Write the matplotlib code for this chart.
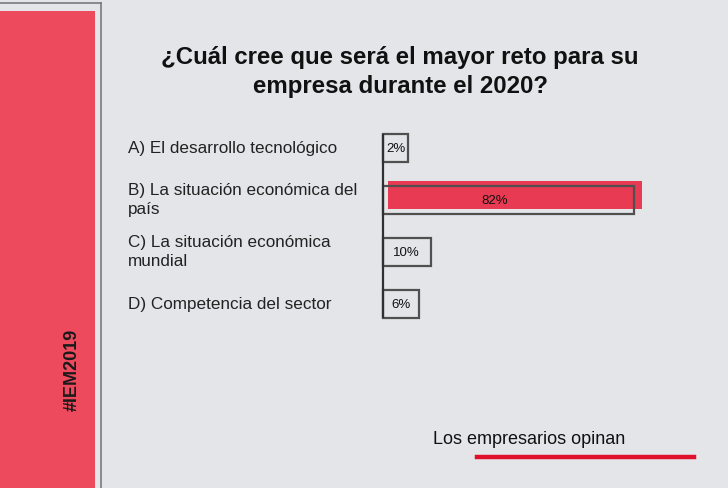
import numpy as np
import matplotlib
matplotlib.use("Agg")
import matplotlib.pyplot as plt
from matplotlib.patches import Rectangle
from matplotlib.lines import Line2D
from matplotlib.transforms import blended_transform_factory

plt.rcParams['font.family'] = ['Liberation Sans', 'DejaVu Sans']

# datos
categorias = ['A) El desarrollo tecnológico',
              'B) La situación económica del\npaís',
              'C) La situación económica\nmundial',
              'D) Competencia del sector']
valores = np.array([2, 82, 10, 6])
etiquetas = ['2%', '82%', '10%', '6%']
titulo = '¿Cuál cree que será el mayor reto para su\nempresa durante el 2020?'

W, H = 728, 488
fig = plt.figure(figsize=(W / 100, H / 100), dpi=100)
fig.patch.set_facecolor('#e4e5e8')

# panel rojo a la izquierda
fig.patches.append(Rectangle((0, 0), 95 / W, 1 - 11 / H, transform=fig.transFigure,
                             facecolor='#ee4a5e', edgecolor='none', zorder=1))
fig.lines.append(Line2D([101 / W, 101 / W], [0, 1 - 3 / H], transform=fig.transFigure,
                        color='#7a7a7a', lw=1.2))
fig.lines.append(Line2D([0, 101 / W], [1 - 3 / H, 1 - 3 / H], transform=fig.transFigure,
                        color='#7a7a7a', lw=1.2))
fig.text(72 / W, 1 - 370 / H, '#IEM2019', rotation=90, fontsize=13, fontweight='bold',
         color='#1a1a1a', ha='center', va='center')

# titulo
fig.text(400 / W, 1 - 72 / H, titulo, ha='center', va='center', fontsize=17.3,
         fontweight='bold', color='#111111', linespacing=1.3)

# barras
inicio = -6.85
ax = fig.add_axes([383 / W, 1 - 330 / H, 251 / W, 208 / H])
ax.set_xlim(inicio, valores.max())
ax.set_ylim(3.5, -0.5)
ax.axis('off')
y = np.arange(len(valores))
alto = 28 / 52

# resaltado rojo del mayor valor
imax = int(np.argmax(valores))
ax.barh(y[imax] - 5 / 52, valores[imax] - inicio + 1.0, left=inicio + 5 / 2.825,
        height=alto, color='#e83a52', edgecolor='none', zorder=2, clip_on=False)
ax.barh(y, valores - inicio, left=inicio, height=alto, facecolor='none',
        edgecolor='#505050', lw=1.6, zorder=3, clip_on=False)
ax.vlines(inicio, y[0] - alto / 2, y[-1] + alto / 2, color='#303030', lw=1.6,
          zorder=4, clip_on=False)

for yi, v, et in zip(y, valores, etiquetas):
    ax.text((inicio + v) / 2 - (5 if v == valores.max() else 0), yi + 0.02, et,
            ha='center', va='center', fontsize=9.5, color='#111111', zorder=5)

trans = blended_transform_factory(fig.transFigure, ax.transData)
for yi, cat in zip(y, categorias):
    ax.text(128 / W, yi, cat, transform=trans, ha='left', va='center',
            fontsize=12.3, color='#222222', linespacing=1.3)

# pie
fig.text(433 / W, 1 - 440 / H, 'Los empresarios opinan', ha='left', va='center',
         fontsize=13, color='#111111')
fig.lines.append(Line2D([477 / W, 694 / W], [1 - 457 / H, 1 - 457 / H],
                        transform=fig.transFigure, color='#e0102c', lw=3.2))

fig.savefig('out.png', dpi=100, facecolor=fig.get_facecolor())
